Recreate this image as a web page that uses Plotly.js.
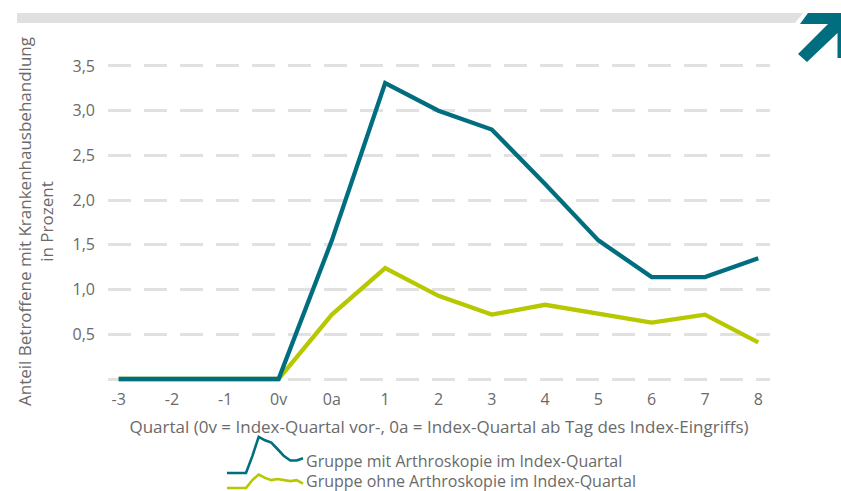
<!DOCTYPE html>
<html>
<head>
<meta charset="utf-8">
<script src="https://cdn.plot.ly/plotly-3.0.1.min.js"></script>
<style>html,body{margin:0;padding:0;background:#fff;}#chart{width:841px;height:491px;}</style>
</head>
<body>
<div id="chart"></div>
<script>
// ---- data ----
var quarters = ['-3', '-2', '-1', '0v', '0a', '1', '2', '3', '4', '5', '6', '7', '8'];
var mitArthro = [0, 0, 0, 0, 1.55, 3.31, 3.0, 2.79, 2.18, 1.55, 1.14, 1.14, 1.35];
var ohneArthro = [0, 0, 0, 0, 0.72, 1.24, 0.93, 0.72, 0.83, 0.73, 0.63, 0.72, 0.41];
var seriesNames = ['Gruppe mit Arthroskopie im Index-Quartal', 'Gruppe ohne Arthroskopie im Index-Quartal'];
var yTickVals = [0, 0.5, 1, 1.5, 2, 2.5, 3, 3.5];
var yTickText = ['', '0,5', '1,0', '1,5', '2,0', '2,5', '3,0', '3,5'];
var xTitle = 'Quartal (0v = Index-Quartal vor-, 0a = Index-Quartal ab Tag des Index-Eingriffs)';
var yTitle = 'Anteil Betroffene mit Krankenhausbehandlung<br>in Prozent';

// ---- styling ----
var W = 841, H = 491;
var TEAL = '#006e7f', LIME = '#b7c800', GRID = '#e1e1e1', TXT = '#6a6a6a';
var FONT = 'Open Sans, sans-serif';
function px(x) { return x / W; }
function py(y) { return (H - y) / H; }

var traces = [
  {x: quarters, y: ohneArthro, type: 'scatter', mode: 'lines', name: seriesNames[1],
   line: {color: LIME, width: 4.3}, xaxis: 'x', yaxis: 'y', showlegend: false, hoverinfo: 'skip'},
  {x: quarters, y: mitArthro, type: 'scatter', mode: 'lines', name: seriesNames[0],
   line: {color: TEAL, width: 4.3}, xaxis: 'x', yaxis: 'y', showlegend: false, hoverinfo: 'skip'},
  // legend mini-icons
  {x: quarters, y: mitArthro, type: 'scatter', mode: 'lines', line: {color: TEAL, width: 2.6},
   xaxis: 'x2', yaxis: 'y2', showlegend: false, hoverinfo: 'skip'},
  {x: quarters, y: ohneArthro, type: 'scatter', mode: 'lines', line: {color: LIME, width: 2.6},
   xaxis: 'x3', yaxis: 'y3', showlegend: false, hoverinfo: 'skip'}
];

// main plot area in pixels
var L = 108, R = 770, T = 60, B = 383;
var yPerUnit = 89.43, yZero = 379;
var miniX = 6.33, miniY = 10.9;

function hidden(extra) {
  return Object.assign({visible: false, fixedrange: true, showgrid: false, zeroline: false}, extra);
}

var layout = {
  width: W, height: H,
  margin: {l: 0, r: 0, t: 0, b: 0},
  paper_bgcolor: '#fff', plot_bgcolor: 'rgba(0,0,0,0)',
  font: {family: FONT, color: TXT, size: 16},
  showlegend: false,
  xaxis: {
    domain: [px(L), px(R)], type: 'category', categoryorder: 'array', categoryarray: quarters,
    range: [-0.2, 12.22], showgrid: false, zeroline: false, showline: false, ticks: '',
    tickfont: {size: 16, color: TXT, family: FONT},
    ticklabelstandoff: 5,
    title: {text: xTitle, font: {size: 17, color: TXT, family: FONT}, standoff: 12},
    automargin: false
  },
  yaxis: {
    domain: [py(B), py(T)],
    range: [(yZero - B) / yPerUnit, (yZero - T) / yPerUnit],
    tickvals: yTickVals, ticktext: yTickText,
    showgrid: true, gridcolor: GRID, gridwidth: 3, griddash: '23px,13px',
    zeroline: false, showline: false, ticks: '',
    tickfont: {size: 16, color: TXT, family: FONT},
    ticklabelstandoff: 12,
    title: {text: yTitle, font: {size: 17, color: TXT, family: FONT}, standoff: 14},
    automargin: false
  },
  xaxis2: hidden({domain: [px(227 - 0.3 * miniX), px(303 + 0.3 * miniX)], range: [-0.3, 12.3], anchor: 'y2',
    type: 'category', categoryorder: 'array', categoryarray: quarters}),
  yaxis2: hidden({domain: [py(473 + 0.3 * miniY), py(473 - 3.6 * miniY)], range: [-0.3, 3.6], anchor: 'x2'}),
  xaxis3: hidden({domain: [px(227 - 0.3 * miniX), px(303 + 0.3 * miniX)], range: [-0.3, 12.3], anchor: 'y3',
    type: 'category', categoryorder: 'array', categoryarray: quarters}),
  yaxis3: hidden({domain: [py(488 + 0.25 * miniY), py(488 - 1.5 * miniY)], range: [-0.25, 1.5], anchor: 'x3'}),
  annotations: [
    {xref: 'paper', yref: 'paper', x: px(304), y: py(461), xanchor: 'left', yanchor: 'middle',
     text: seriesNames[0], showarrow: false, font: {size: 16, color: TXT, family: FONT}},
    {xref: 'paper', yref: 'paper', x: px(304), y: py(481), xanchor: 'left', yanchor: 'middle',
     text: seriesNames[1], showarrow: false, font: {size: 16, color: TXT, family: FONT}}
  ],
  shapes: [
    // top grey band
    {type: 'path', xref: 'paper', yref: 'paper', layer: 'below', line: {width: 0}, fillcolor: '#e0e0e0',
     path: 'M' + px(17) + ',' + py(13) + ' L' + px(803) + ',' + py(13) + ' L' + px(795) + ',' + py(23) +
           ' L' + px(17) + ',' + py(23) + ' Z'},
    // arrow logo
    {type: 'path', xref: 'paper', yref: 'paper', line: {width: 0}, fillcolor: TEAL,
     path: 'M' + px(808) + ',' + py(13) + ' L' + px(845) + ',' + py(13) + ' L' + px(845) + ',' + py(58) +
           ' L' + px(837.5) + ',' + py(58) + ' L' + px(837.5) + ',' + py(33) + ' L' + px(807) + ',' + py(62) +
           ' L' + px(798) + ',' + py(54) + ' L' + px(828) + ',' + py(24) + ' L' + px(800) + ',' + py(24) + ' Z'}
  ]
};

Plotly.newPlot('chart', traces, layout, {staticPlot: true, displayModeBar: false});
</script>
</body>
</html>
